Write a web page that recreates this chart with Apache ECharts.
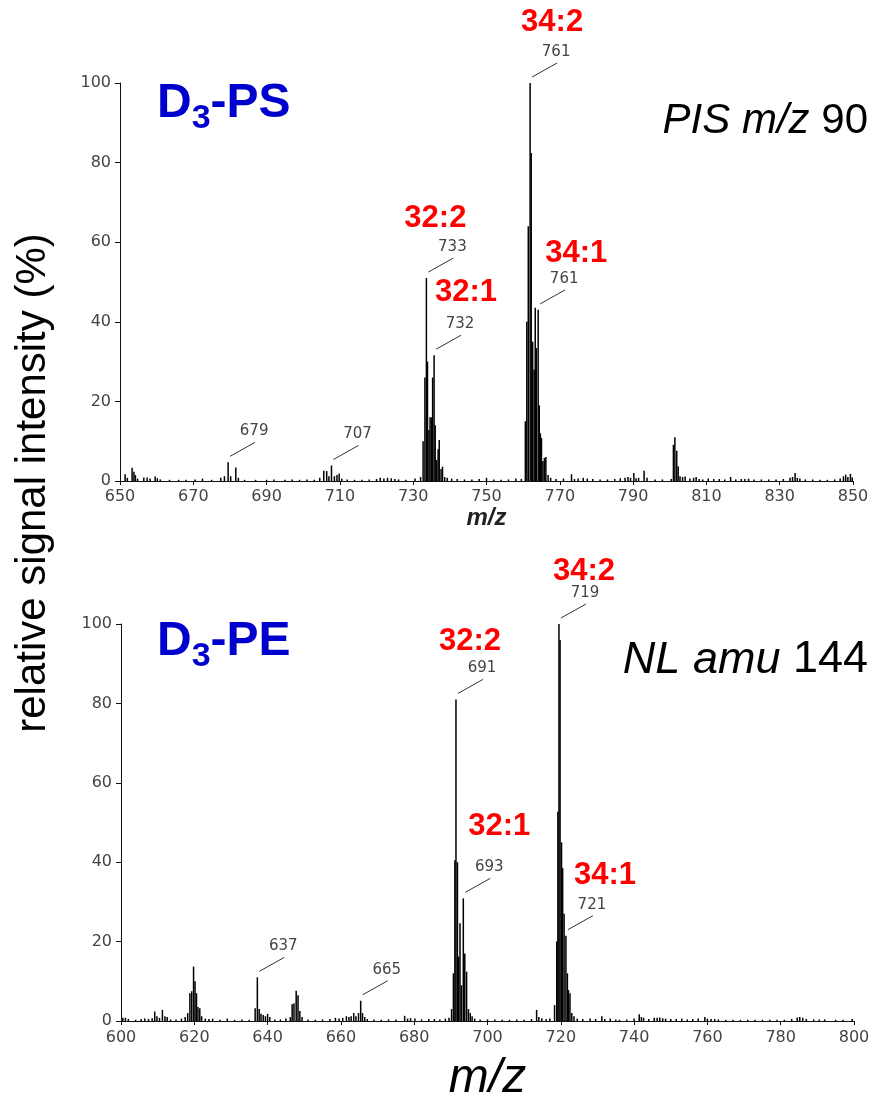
<!DOCTYPE html>
<html><head><meta charset="utf-8">
<script src="https://cdn.jsdelivr.net/npm/echarts@6/dist/echarts.min.js"></script>
<style>html,body{margin:0;padding:0;background:#fff}#c{width:873px;height:1102px}</style>
</head><body><div id="c"></div>
<script>
// ---------- DATA ----------
// D3-PS, precursor ion scan m/z 90
const psMz = [651.4,652.0,653.3,653.8,654.2,654.8,656.5,657.4,658.2,659.6,660.2,661,663.5,666,668,670.5,672.5,675,677.5,678.5,679.5,680.2,681.6,682.3,684,687,690,692,695,697,699,701,703,704.5,705.6,706.4,707,707.7,708.5,709.2,709.8,710.5,712,714,716,718,720,721,722,723,724,725,726,728,730.5,732.0,732.7,733.2,733.6,733.9,734.3,734.6,735.0,735.3,735.7,736.0,736.4,736.8,737.1,737.6,738.0,738.6,739.3,740.5,742,744,746,748,750,752,754,756,758,759.5,760.6,761.0,761.4,761.9,762.2,762.6,763.0,763.3,763.6,764.1,764.4,764.7,765.0,765.4,765.8,766.2,766.8,767.5,769,771,773.2,774,775,776.4,777.5,779,781,783,785,786.5,787.8,788.6,789.3,790.2,790.8,791.5,793.0,793.8,796,798,800.4,801.0,801.4,801.9,802.3,802.8,803.5,804.2,805.5,806.5,807.2,808,809,810.5,812,813.5,815,816.6,818,819.5,820.5,821.5,823,825,827,829,831,832.8,833.5,834.2,834.8,835.5,837,839,841,843,845,846.5,847.4,848.0,848.6,849.3,849.8];
const psInt = [1.7,0.8,3.3,2.3,1.5,0.6,0.9,0.9,0.6,1.1,0.7,0.4,0.3,0.3,0.3,0.4,0.6,0.3,0.8,1.2,4.7,1.2,3.4,0.8,0.3,0.3,0.3,0.4,0.3,0.4,0.3,0.4,0.3,0.8,2.6,2.5,1.2,3.9,1.2,1.5,1.9,0.6,0.4,0.3,0.3,0.4,0.5,0.8,0.6,0.8,0.7,0.5,0.4,0.3,0.6,1.0,10,26,51,30,12.8,16,16,26,31.6,14,5.3,8,10.3,3,3.6,1.0,0.8,0.6,0.5,0.4,0.4,0.5,0.8,0.4,0.3,0.4,0.6,0.5,15,40,64,100,82.4,35,28,43.5,33.4,43,19,12,10.8,5,5.8,6,1.5,0.8,0.5,0.6,1.7,0.5,0.6,0.8,0.6,0.5,0.4,0.4,0.5,0.7,0.8,1.0,0.8,2.0,0.7,0.8,2.6,0.8,0.4,0.4,0.5,9.1,11,7.6,3.7,1.2,1.0,1.1,0.6,0.8,1.0,0.5,0.4,0.6,0.5,0.5,0.4,1.0,0.4,0.5,0.5,0.6,0.4,0.4,0.4,0.4,0.5,0.8,1.0,2.0,0.8,0.6,0.4,0.4,0.3,0.3,0.4,0.6,1.2,1.6,1.0,1.8,0.9];
// D3-PE, neutral loss 144
const peMz = [600.5,601.2,602,604,605.5,606.5,607.5,608.5,609.2,609.8,610.5,611.3,612,612.6,613.5,615,616.5,617.5,618.2,618.8,619.3,619.8,620.2,620.6,621,621.5,622,623,624,625,627,629,631,633,635,636.6,637.2,637.7,638.2,638.8,639.4,640,640.6,642,643.5,645,646.2,646.7,647.2,647.8,648.3,648.8,649.4,651,653,655,657,658.5,659.5,660.5,661.5,662.2,662.8,663.5,664.1,664.8,665.4,665.9,666.5,667.2,669,671,673,675,677.4,678.2,679,680.2,682,684,685.5,687,688.5,689.5,690.2,690.7,691.1,691.4,691.8,692.1,692.5,692.9,693.4,693.8,694.3,694.8,695.3,695.8,696.5,698,700,702,704,706,708,710,712,713.4,714,714.8,716,717,718.3,718.9,719.2,719.5,719.8,720.2,720.5,720.9,721.4,721.8,722.1,722.5,723,723.6,724.5,726,728,729.5,731.2,732,733.5,735,736,738,740,741.4,742,742.6,744,745.5,746.3,747,747.8,748.6,750,751.5,753,754.5,756,757.5,759.3,760,761,762,763,765,767,769,771,773,775,777,779,781,783,784.5,785.2,786,787,789,790.5,792,795,797,799.5];
const peInt = [0.8,0.8,0.5,0.3,0.5,0.6,0.5,0.7,2.4,1.2,0.8,2.8,1.2,1.0,0.4,0.4,0.6,1.0,2.0,7.0,7.5,13.7,10,7,3.5,3.2,1.2,0.6,0.5,0.6,0.3,0.6,0.3,0.4,0.3,3.2,11,3,1.8,1.5,1.2,1.8,1.0,0.4,0.4,0.6,1.0,4.2,4.5,7.6,6.5,2.5,1.0,0.4,0.3,0.4,0.5,0.8,0.6,0.8,1.2,1.0,1.2,2.0,1.2,2.0,5.1,2.0,1.0,0.5,0.4,0.3,0.4,0.4,1.3,0.6,0.7,0.6,0.4,0.5,0.5,0.4,0.6,0.8,3,12,40.5,81,40,16.2,24.6,9,30.9,17,12.4,3,2,1.2,0.6,0.4,0.4,0.4,0.3,0.3,0.4,0.3,0.5,2.8,1.0,0.7,0.5,0.6,4,20,52.7,100,96,45,38.5,27,21.5,12,7.8,7,2,1.2,0.6,0.5,0.6,0.5,1.2,0.5,0.6,0.4,0.3,0.4,0.6,1.7,1.0,0.8,0.5,0.8,0.8,0.9,0.7,0.6,0.5,0.5,0.6,0.4,0.5,0.6,1.0,0.6,0.5,0.5,0.4,0.3,0.3,0.3,0.3,0.3,0.3,0.3,0.3,0.3,0.5,0.9,1.0,0.8,0.5,0.4,0.4,0.4,0.3,0.3,0.5];

const psTicks = [650,670,690,710,730,750,770,790,810,830,850];
const peTicks = [600,620,640,660,680,700,720,740,760,780,800];
const yTicks = [0,20,40,60,80,100];

// annotated peaks
const psAnnMz = [679.5, 707.7, 733.6, 735.7, 761.9, 764.1];
const psAnnLabel = ['679','707','733','732','761','761'];
const psAnnName = ['','','32:2','32:1','34:2','34:1'];
const peAnnMz = [637.2, 665.4, 691.4, 693.4, 719.5, 721.4];
const peAnnLabel = ['637','665','691','693','719','721'];
const peAnnName = ['','','32:2','32:1','34:2','34:1'];

// ---------- LAYOUT (pixel offsets of name labels relative to peak tops) ----------
const psNameOff = [null,null,[9,-60],[32,-63],[22,-61],[38,-56]];
const peNameOff = [null,null,[14,-58],[36,-72],[25,-53],[39,-60]];

const chart = echarts.init(document.getElementById('c'), null, {renderer:'canvas'});
const pairs = (xs, ys) => xs.map((x,i)=>[x, ys[i]]);
const tickFont = {fontFamily:'DejaVu Sans', fontSize:16, color:'#444'};

function xAx(idx, min, max, ticks, name, nameStyle, nameGap, labelMargin){
  return {type:'value', gridIndex:idx, min, max,
    axisLine:{show:true, onZero:false, lineStyle:{color:'#111', width:1}},
    axisTick:{show:true, length:4, lineStyle:{color:'#111'}, customValues:ticks},
    axisLabel:Object.assign({margin:labelMargin, customValues:ticks}, tickFont),
    splitLine:{show:false},
    name, nameLocation:'middle', nameGap, nameTextStyle:nameStyle};
}
function yAx(idx){
  return {type:'value', gridIndex:idx, min:0, max:100, interval:20,
    axisLine:{show:true, lineStyle:{color:'#111', width:1}},
    axisTick:{show:true, length:5, lineStyle:{color:'#111'}, customValues:yTicks},
    axisLabel:Object.assign({margin:9, customValues:yTicks}, tickFont),
    splitLine:{show:false}};
}

const option = {
  animation:false,
  backgroundColor:'#fff',
  grid:[
    {left:120, right:20, top:83, bottom:621, containLabel:false, outerBoundsMode:'none'},
    {left:121, right:19, top:624, bottom:81, containLabel:false, outerBoundsMode:'none'}
  ],
  xAxis:[
    xAx(0, 650, 850, psTicks, 'm/z', {fontFamily:'Liberation Sans', fontSize:24, fontStyle:'italic', fontWeight:'bold', color:'#222'}, 13, 8),
    xAx(1, 600, 800, peTicks, 'm/z', {fontFamily:'Liberation Sans', fontSize:48, fontStyle:'italic', color:'#000'}, 34, 9)
  ],
  yAxis:[yAx(0), yAx(1)],
  series:[
    {type:'bar', name:'D3-PS', xAxisIndex:0, yAxisIndex:0, data:pairs(psMz, psInt), barWidth:1.5, itemStyle:{color:'#000'}, silent:true},
    {type:'bar', name:'D3-PE', xAxisIndex:1, yAxisIndex:1, data:pairs(peMz, peInt), barWidth:1.5, itemStyle:{color:'#000'}, silent:true}
  ]
};
chart.setOption(option);

function annGraphics(gridIndex, mzs, allMz, allInt, labels, names, nameOff){
  const g = [];
  mzs.forEach((m,i)=>{
    const idx = allMz.indexOf(m);
    const v = allInt[idx];
    const p = chart.convertToPixel({gridIndex}, [m, v]);
    g.push({type:'line', silent:true, shape:{x1:p[0]+2, y1:p[1]-6, x2:p[0]+27, y2:p[1]-20}, style:{stroke:'#333', lineWidth:1}});
    g.push({type:'text', silent:true, x:p[0]+26, y:p[1]-31, style:{text:labels[i], fontFamily:'DejaVu Sans', fontSize:15, fill:'#444', align:'center', verticalAlign:'middle'}});
    if (names[i]) {
      const o = nameOff[i];
      g.push({type:'text', silent:true, x:p[0]+o[0], y:p[1]+o[1], style:{text:names[i], fontFamily:'Liberation Sans', fontWeight:'bold', fontSize:31, fill:'#ff0000', align:'center', verticalAlign:'middle'}});
    }
  });
  return g;
}

const titleRich = {
  a:{fontFamily:'Liberation Sans', fontWeight:'bold', fontSize:48, lineHeight:56, fill:'#0000cc', color:'#0000cc', verticalAlign:'top'},
  b:{fontFamily:'Liberation Sans', fontWeight:'bold', fontSize:34, lineHeight:28, fill:'#0000cc', color:'#0000cc', verticalAlign:'bottom'}
};
function rightRich(size){
  return {
    i:{fontFamily:'Liberation Sans', fontStyle:'italic', fontSize:size, fill:'#000', color:'#000'},
    n:{fontFamily:'Liberation Sans', fontSize:size, fill:'#000', color:'#000'}
  };
}

const graphics = [].concat(
  annGraphics(0, psAnnMz, psMz, psInt, psAnnLabel, psAnnName, psNameOff),
  annGraphics(1, peAnnMz, peMz, peInt, peAnnLabel, peAnnName, peNameOff),
  [
    {type:'text', silent:true, x:157, y:80, style:{text:'{a|D}{b|3}{a|-PS}', rich:titleRich, align:'left', verticalAlign:'top'}},
    {type:'text', silent:true, x:157, y:618, style:{text:'{a|D}{b|3}{a|-PE}', rich:titleRich, align:'left', verticalAlign:'top'}},
    {type:'text', silent:true, x:868, y:121, style:{text:'{i|PIS m/z }{n|90}', rich:rightRich(42), align:'right', verticalAlign:'middle'}},
    {type:'text', silent:true, x:868, y:660, style:{text:'{i|NL amu }{n|144}', rich:rightRich(45), align:'right', verticalAlign:'middle'}},
    {type:'text', silent:true, x:33, y:483, rotation:Math.PI/2, style:{text:'relative signal intensity (%)', fontFamily:'Liberation Sans', fontSize:42, fill:'#000', align:'center', verticalAlign:'middle'}}
  ]
);
chart.setOption({graphic:graphics});
</script>
</body></html>
